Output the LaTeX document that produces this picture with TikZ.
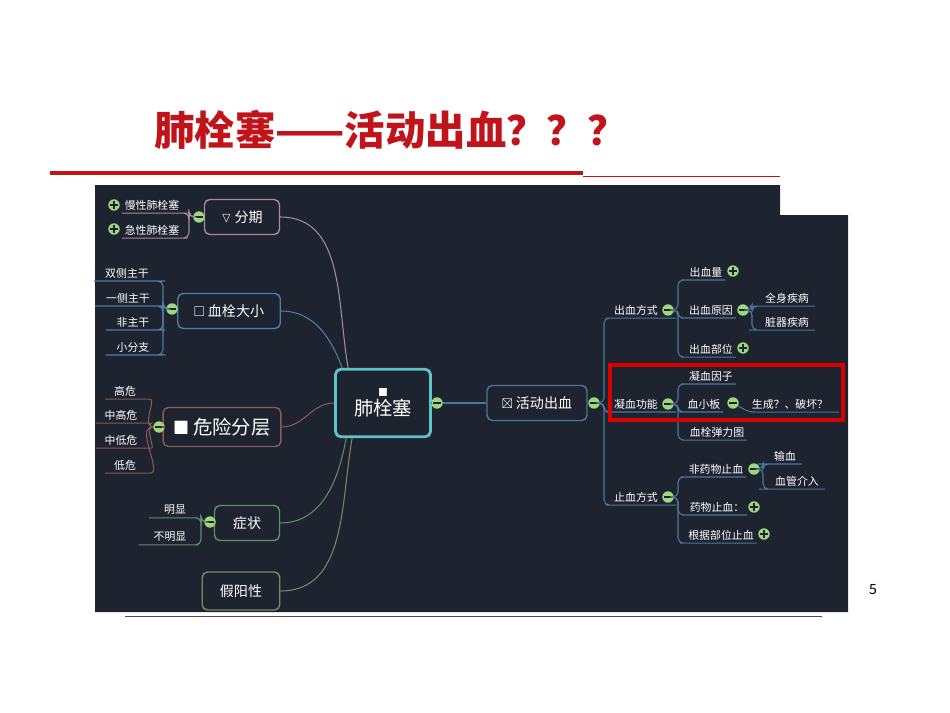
\documentclass[tikz,border=0pt]{standalone}
\usepackage{amssymb}
\usepackage{fontspec}
\setmainfont{Noto Sans CJK SC}
\usetikzlibrary{calc}
\definecolor{panel}{HTML}{1E2330}
\definecolor{teal}{HTML}{5FC3C9}
\definecolor{tog}{HTML}{9FD77C}
\definecolor{titlered}{HTML}{C0141A}
\definecolor{bpink}{HTML}{A58C9C}
\definecolor{bblue}{HTML}{4F7FA3}
\definecolor{bbrown}{HTML}{8C5A55}
\definecolor{bgreen}{HTML}{5E8F6A}
\definecolor{bolive}{HTML}{7C8A5C}
\definecolor{rblue}{HTML}{4A7898}

\tikzset{
  topic/.style={draw=#1, line width=0.8pt, rounded corners=3pt, text=white,
    font=\fontsize{8}{9}\selectfont, minimum height=0.7cm, inner xsep=6pt},
  leaf/.style={text=white, font=\fontsize{6.2}{7}\selectfont, inner sep=1.5pt},
  toggle/.style={circle, fill=tog, minimum size=6.5pt, inner sep=0pt},
  plus/.style={toggle, path picture={\draw[panel, line width=0.7pt]
    ($(path picture bounding box.center)+(-2pt,0)$) -- ++(4pt,0)
    ($(path picture bounding box.center)+(0,-2pt)$) -- ++(0,4pt);}},
  minus/.style={toggle, path picture={\draw[panel, line width=0.7pt]
    ($(path picture bounding box.center)+(-2pt,0)$) -- ++(4pt,0);}},
  link/.style={line width=0.6pt, rounded corners=3pt}
}

\begin{document}
\begin{tikzpicture}[x=0.02cm, y=-0.02cm]
\useasboundingbox (0,0) rectangle (950,713);

% Title and rules
\node[text=titlered, font=\fontsize{23}{24}\selectfont\bfseries, anchor=west] (title) at (148,130) {肺栓塞——活动出血？？？};
\draw[titlered, line width=2.5pt] (50,173) -- (583,173);
\draw[titlered, line width=0.4pt] (583,176) -- (780,176);

% Dark panel
\fill[panel] (95,185) -- (780,185) -- (780,215) -- (848,215) -- (848,612) -- (95,612) -- cycle;
\draw[black!70, line width=0.5pt] (125,616) -- (822,616);
\node[font=\fontsize{8}{9}\selectfont] (page) at (873,590) {5};

% Centre and left topics
\node[topic=teal, line width=1.6pt, minimum width=1.9cm, minimum height=1.35cm,
  font=\fontsize{11}{12}\selectfont, align=center] (root) at (383,403)
  {\fontsize{6}{6}\selectfont$\blacksquare$\\[-1pt]肺栓塞};
\node[topic=bpink, minimum width=1.5cm] (fenqi) at (242,217) {$\triangledown$ 分期};
\node[topic=bblue, minimum width=2.05cm] (daxiao) at (229,311) {$\square$ 血栓大小};
\node[topic=bbrown, minimum width=2.3cm, minimum height=0.78cm,
  font=\fontsize{11}{12}\selectfont] (fenceng) at (222,427) {$\blacksquare$ 危险分层};
\node[topic=bgreen, minimum width=1.3cm] (zhengzhuang) at (247,523) {症状};
\node[topic=bolive, minimum width=1.55cm, minimum height=0.76cm] (jiayang) at (241,591) {假阳性};

\draw[bpink, link] (root.north west) ++(14,0) to[out=100,in=0] (fenqi.east);
\draw[bblue, link] (root.north west) ++(8,0) to[out=110,in=0] (daxiao.east);
\draw[bbrown, link] (root.west) to[out=180,in=0] (fenceng.east);
\draw[bgreen, link] (root.south west) ++(12,0) to[out=260,in=0] (zhengzhuang.east);
\draw[bolive, link] (root.south west) ++(18,0) to[out=260,in=0] (jiayang.east);

% Left leaves
\node[minus] (t1) at (199,217) {};
\node[minus] (t2) at (172,309) {};
\node[minus] (t3) at (159,427) {};
\node[minus] (t4) at (210,522) {};
\draw[bpink, link] (fenqi.west) -- (t1);
\draw[bblue, link] (daxiao.west) -- (t2);
\draw[bbrown, link] (fenceng.west) -- (t3);
\draw[bgreen, link] (zhengzhuang.west) -- (t4);

\node[leaf] (l11) at (152,205) {慢性肺栓塞};
\node[leaf] (l12) at (152,230) {急性肺栓塞};
\node[plus] (p11) at (114,205) {};
\node[plus] (p12) at (114,229) {};
\foreach \n in {l11,l12} \draw[bpink, link] (t1) -| ($(t1)+(-10,0)$) |- (\n.south east) -- (\n.south west);

\node[leaf] (l21) at (127,273) {双侧主干};
\node[leaf] (l22) at (128,298) {一侧主干};
\node[leaf] (l23) at (133,322) {非主干};
\node[leaf] (l24) at (133,347) {小分支};
\foreach \n in {l21,l22,l23,l24} \draw[bblue, link] (t2) -| ($(t2)+(-9,0)$) |- (\n.south east -| 160,0) -- ($(\n.south west)+(-8,0)$);

\node[leaf] (l31) at (125,391) {高危};
\node[leaf] (l32) at (121,415) {中高危};
\node[leaf] (l33) at (121,440) {中低危};
\node[leaf] (l34) at (125,465) {低危};
\foreach \n in {l31,l32,l33,l34} \draw[bbrown, link] (t3) to[out=180,in=0] ($(\n.south east)+(6,0)$) -- ($(\n.south west)+(-6,0)$);

\node[leaf] (l41) at (175,510) {明显};
\node[leaf] (l42) at (170,537) {不明显};
\foreach \n in {l41,l42} \draw[bgreen, link] (t4) -| ($(t4)+(-9,0)$) |- ($(\n.south east)+(4,0)$) -- ($(\n.south west)+(-12,0)$);

% Right side
\node[minus] (t0) at (437,403) {};
\node[topic=rblue, minimum width=2.0cm] (chuxue) at (537,403) {$\boxtimes$ 活动出血};
\node[minus] (t5) at (594,403) {};
\draw[rblue, link] (root.east) -- (t0) -- (chuxue.west);
\draw[rblue, link] (chuxue.east) -- (t5);

\node[leaf] (r1) at (636,310) {出血方式};
\node[leaf] (r2) at (636,404) {凝血功能};
\node[leaf] (r3) at (636,497) {止血方式};
\node[minus] (t6) at (668,310) {};
\node[minus] (t7) at (668,404) {};
\node[minus] (t8) at (668,497) {};
\foreach \n in {r1,r2,r3} \draw[rblue, link] (t5) -| (604,0 |- \n.south) -- (\n.south west) -- (\n.south east -| 676,0);

\node[leaf] (s1) at (706,272) {出血量};
\node[leaf] (s2) at (711,310) {出血原因};
\node[leaf] (s3) at (711,349) {出血部位};
\node[plus] (ps1) at (733,271) {};
\node[minus] (t9) at (743,310) {};
\node[plus] (ps3) at (743,348) {};
\foreach \n in {s1,s2,s3} \draw[rblue, link] (t6) -- (678,310) |- (\n.south west) -- (\n.south east);

\node[leaf] (u1) at (787,298) {全身疾病};
\node[leaf] (u2) at (787,322) {脏器疾病};
\foreach \n in {u1,u2} \draw[rblue, link] (t9) -- (752,310) |- ($(\n.south west)+(-8,0)$) -- ($(\n.south east)+(3,0)$);

\node[leaf] (s4) at (711,376) {凝血因子};
\node[leaf] (s5) at (704,404) {血小板};
\node[leaf] (s6) at (717,432) {血栓弹力图};
\node[minus] (t10) at (733,403) {};
\node[leaf] (u3) at (790,404) {生成？、破坏？};
\foreach \n in {s4,s5,s6} \draw[rblue, link] (t7) -- (678,404) |- (\n.south west) -- (\n.south east);
\draw[rblue, link] (t10) -- (u3.south west) -- ($(u3.south east)+(8,0)$);

\node[leaf] (s7) at (716,469) {非药物止血};
\node[leaf] (s8) at (717,507) {药物止血：};
\node[leaf] (s9) at (721,535) {根据部位止血};
\node[minus] (t11) at (754,469) {};
\node[plus] (ps8) at (754,507) {};
\node[plus] (ps9) at (764,534) {};
\foreach \n in {s7,s8,s9} \draw[rblue, link] (t8) -- (678,497) |- (\n.south west) -- (\n.south east);

\node[leaf] (u4) at (785,456) {输血};
\node[leaf] (u5) at (797,481) {血管介入};
\foreach \n in {u4,u5} \draw[rblue, link] (t11) -- (763,469) |- ($(\n.south west)+(-8,0)$) -- ($(\n.south east)+(3,0)$);

% Highlight
\draw[red!85!black, line width=2pt] (610,365) rectangle (843,420);
\end{tikzpicture}
\end{document}
